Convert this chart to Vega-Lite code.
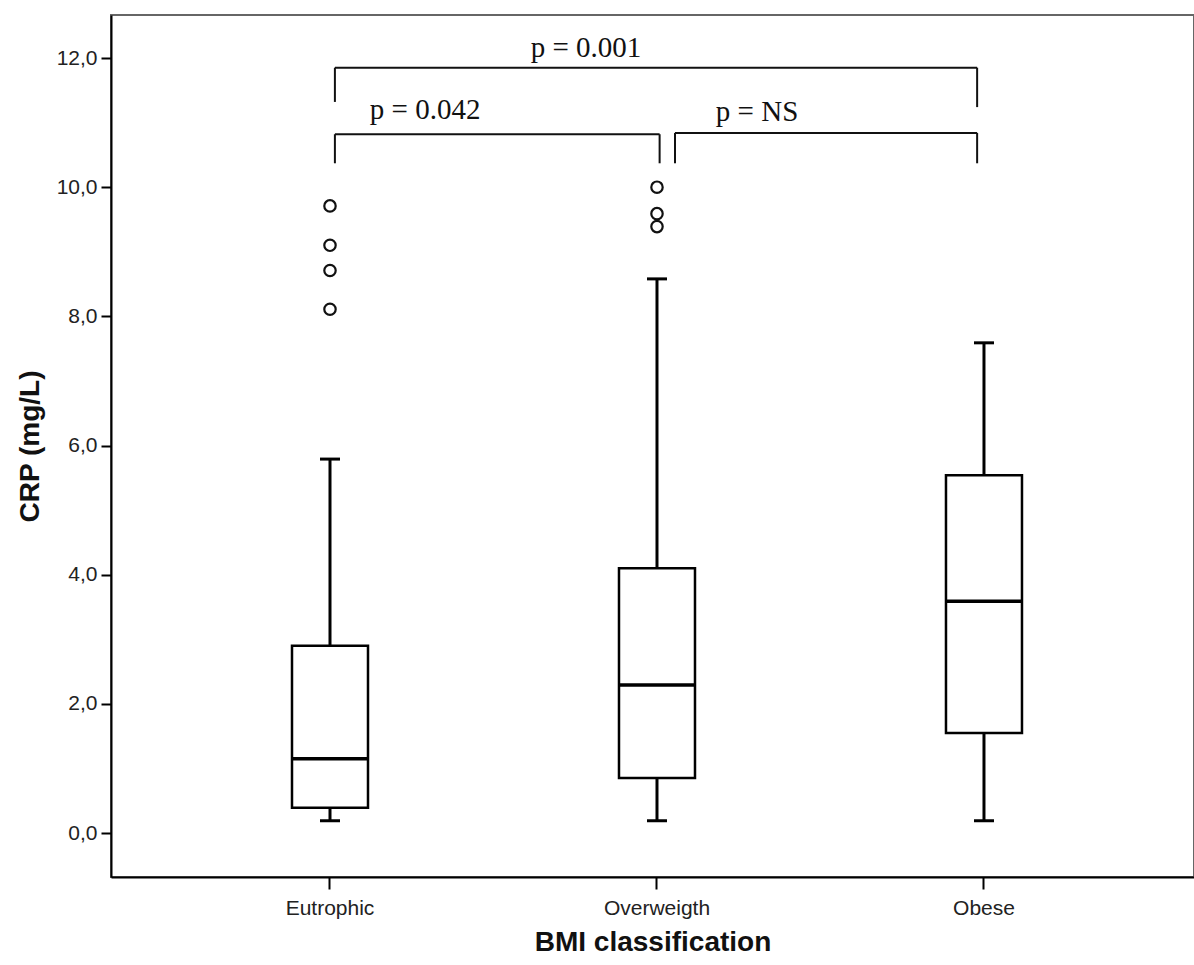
{
  "$schema": "https://vega.github.io/schema/vega-lite/v6.json",
  "autosize": {"type": "none"},
  "padding": {"left": 111, "top": 15, "right": 0, "bottom": 88},
  "width": 1083,
  "height": 862,
  "background": "white",
  "config": {
    "view": {"stroke": "#666666", "strokeWidth": 2},
    "axis": {"grid": false, "domainColor": "#000000", "domainWidth": 2, "tickColor": "#000000", "tickWidth": 2, "labelFont": "Liberation Sans", "labelColor": "#222222", "titleFont": "Liberation Sans", "titleColor": "#111111", "titleFontWeight": "bold"}
  },
  "datasets": {
    "boxes": [
      {"group": "Eutrophic", "lower": 0.19, "q1": 0.39, "median": 1.15, "q3": 2.9, "upper": 5.79},
      {"group": "Overweigth", "lower": 0.19, "q1": 0.85, "median": 2.29, "q3": 4.1, "upper": 8.58},
      {"group": "Obese", "lower": 0.19, "q1": 1.55, "median": 3.59, "q3": 5.54, "upper": 7.59}
    ],
    "outliers": [
      {"group": "Eutrophic", "crp": 9.71},
      {"group": "Eutrophic", "crp": 9.1},
      {"group": "Eutrophic", "crp": 8.71},
      {"group": "Eutrophic", "crp": 8.11},
      {"group": "Overweigth", "crp": 10.0},
      {"group": "Overweigth", "crp": 9.59},
      {"group": "Overweigth", "crp": 9.39}
    ],
    "brackets": [
      {"label": "p = 0.001", "from": 0.015, "to": 1.979, "top": 11.85, "leftEnd": 11.32, "rightEnd": 11.24, "labelPos": 0.783, "labelY": 12.155},
      {"label": "p = 0.042", "from": 0.015, "to": 1.008, "top": 10.82, "leftEnd": 10.37, "rightEnd": 10.37, "labelPos": 0.291, "labelY": 11.195},
      {"label": "p = NS", "from": 1.055, "to": 1.979, "top": 10.84, "leftEnd": 10.37, "rightEnd": 10.37, "labelPos": 1.306, "labelY": 11.164}
    ]
  },
  "resolve": {"scale": {"x": "independent"}},
  "layer": [
    {
      "layer": [
        {
          "data": {"name": "boxes"},
          "mark": {"type": "rule", "color": "#000000", "strokeWidth": 3},
          "encoding": {
            "x": {"field": "group", "type": "nominal", "sort": ["Eutrophic", "Overweigth", "Obese"],
              "scale": {"paddingInner": 0, "paddingOuter": 0.156, "align": 0.544},
              "axis": {"title": "BMI classification", "titleFontSize": 28, "titlePadding": 10, "labelAngle": 0, "labelFontSize": 21, "labelPadding": 8, "tickSize": 12}},
            "y": {"field": "lower", "type": "quantitative",
              "scale": {"domain": [-0.681, 12.666], "nice": false, "zero": false},
              "axis": {"title": "CRP (mg/L)", "titleFontSize": 28, "titlePadding": 12, "values": [0, 2, 4, 6, 8, 10, 12], "labelExpr": "replace(format(datum.value, '.1f'), '.', ',')", "labelFontSize": 21, "labelPadding": 4, "tickSize": 10}},
            "y2": {"field": "upper"}
          }
        },
        {
          "data": {"name": "boxes"},
          "mark": {"type": "bar", "size": 76, "fill": "#ffffff", "stroke": "#000000", "strokeWidth": 2.5},
          "encoding": {
            "x": {"field": "group", "type": "nominal", "sort": ["Eutrophic", "Overweigth", "Obese"]},
            "y": {"field": "q1", "type": "quantitative"},
            "y2": {"field": "q3"}
          }
        },
        {
          "data": {"name": "boxes"},
          "mark": {"type": "tick", "size": 76, "thickness": 3.5, "color": "#000000", "opacity": 1},
          "encoding": {
            "x": {"field": "group", "type": "nominal", "sort": ["Eutrophic", "Overweigth", "Obese"]},
            "y": {"field": "median", "type": "quantitative"}
          }
        },
        {
          "data": {"name": "boxes"},
          "mark": {"type": "tick", "size": 20, "thickness": 3, "color": "#000000", "opacity": 1},
          "encoding": {
            "x": {"field": "group", "type": "nominal", "sort": ["Eutrophic", "Overweigth", "Obese"]},
            "y": {"field": "lower", "type": "quantitative"}
          }
        },
        {
          "data": {"name": "boxes"},
          "mark": {"type": "tick", "size": 20, "thickness": 3, "color": "#000000", "opacity": 1},
          "encoding": {
            "x": {"field": "group", "type": "nominal", "sort": ["Eutrophic", "Overweigth", "Obese"]},
            "y": {"field": "upper", "type": "quantitative"}
          }
        },
        {
          "data": {"name": "outliers"},
          "mark": {"type": "point", "shape": "circle", "filled": false, "size": 130, "stroke": "#111111", "strokeWidth": 2.2, "opacity": 1},
          "encoding": {
            "x": {"field": "group", "type": "nominal", "sort": ["Eutrophic", "Overweigth", "Obese"]},
            "y": {"field": "crp", "type": "quantitative"}
          }
        }
      ]
    },
    {
      "data": {"name": "brackets"},
      "layer": [
        {
          "mark": {"type": "rule", "color": "#111111", "strokeWidth": 2},
          "encoding": {
            "x": {"field": "from", "type": "quantitative", "scale": {"domain": [-0.6697, 2.6422], "nice": false, "zero": false}, "axis": null},
            "x2": {"field": "to"},
            "y": {"field": "top", "type": "quantitative"}
          }
        },
        {
          "mark": {"type": "rule", "color": "#111111", "strokeWidth": 2},
          "encoding": {
            "x": {"field": "from", "type": "quantitative"},
            "y": {"field": "top", "type": "quantitative"},
            "y2": {"field": "leftEnd"}
          }
        },
        {
          "mark": {"type": "rule", "color": "#111111", "strokeWidth": 2},
          "encoding": {
            "x": {"field": "to", "type": "quantitative"},
            "y": {"field": "top", "type": "quantitative"},
            "y2": {"field": "rightEnd"}
          }
        },
        {
          "mark": {"type": "text", "font": "Liberation Serif", "fontSize": 29, "color": "#111111", "align": "center", "baseline": "middle"},
          "encoding": {
            "x": {"field": "labelPos", "type": "quantitative"},
            "y": {"field": "labelY", "type": "quantitative"},
            "text": {"field": "label"}
          }
        }
      ]
    }
  ]
}
